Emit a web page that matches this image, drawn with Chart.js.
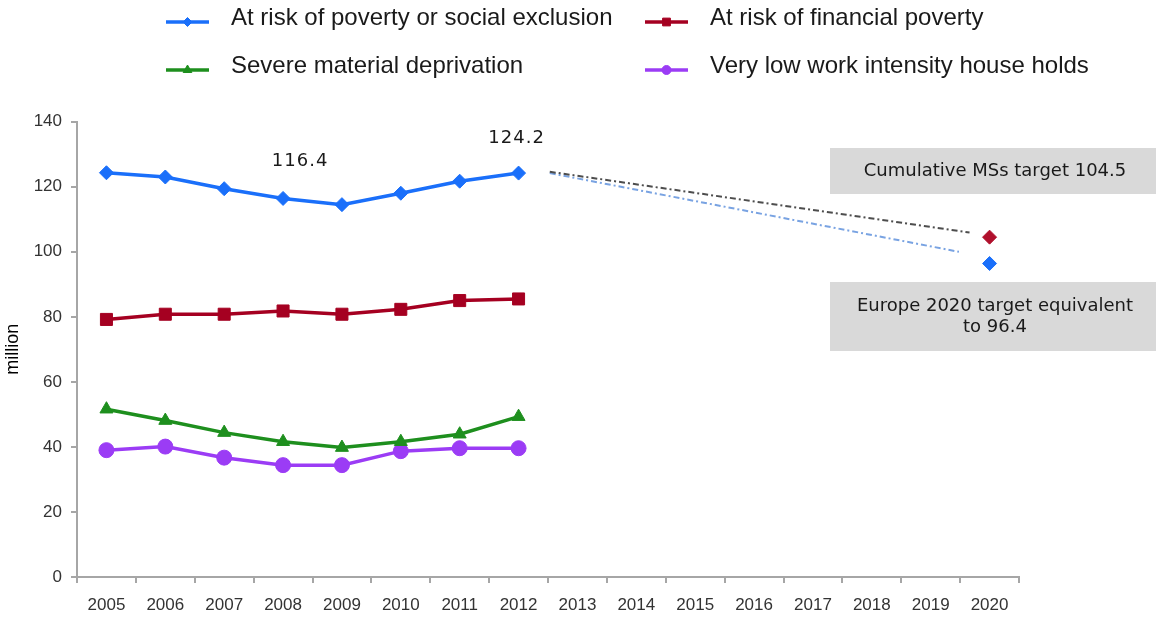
<!DOCTYPE html>
<html>
<head>
<meta charset="utf-8">
<script src="https://cdn.jsdelivr.net/npm/chart.js@4.4.0/dist/chart.umd.min.js"></script>
<style>
  html, body { margin: 0; padding: 0; background: #fff; }
  #wrap { width: 1156px; height: 617px; }
</style>
</head>
<body>
<div id="wrap"><canvas id="povertyChart" width="1156" height="617"></canvas></div>
<script>
// Data (million people)
const years = ['2005', '2006', '2007', '2008', '2009', '2010', '2011', '2012',
               '2013', '2014', '2015', '2016', '2017', '2018', '2019', '2020'];
const seriesNames = ['At risk of poverty or social exclusion', 'At risk of financial poverty',
                     'Severe material deprivation', 'Very low work intensity house holds'];
const arope = [124.3, 123.0, 119.4, 116.4, 114.5, 118.0, 121.7, 124.2];
const financialPoverty = [79.2, 80.8, 80.8, 81.8, 80.8, 82.3, 85.0, 85.5];
const materialDeprivation = [51.6, 48.1, 44.4, 41.6, 39.8, 41.6, 43.9, 49.3];
const lowWorkIntensity = [39.0, 40.1, 36.7, 34.4, 34.4, 38.7, 39.6, 39.6];
const msTarget = 104.5;
const euTarget = 96.4;
// trend lines towards the targets: [year, value] at start and end
const msTrend = [[2012.53, 124.6], [2019.66, 105.9]];
const euTrend = [[2012.53, 124.2], [2019.48, 100.0]];
const labelledYears = ['2008', '2012'];
const yTicks = [0, 20, 40, 60, 80, 100, 120, 140];
const boxTexts = [['Cumulative MSs target 104.5'], ['Europe 2020 target equivalent', 'to 96.4']];

const colors = ['#1a6ffa', '#a50021', '#1e8f1e', '#9b3cf5'];
const styles = ['rectRot', 'rect', 'triangle', 'circle'];
const radii = [7, 8.5, 7.5, 7.5];

const pad = arr => years.map((y, i) => i < arr.length ? arr[i] : null);
const onlyLast = v => years.map((y, i) => i === years.length - 1 ? v : null);
const toPts = arr => arr.map(p => ({x: p[0], y: p[1]}));

const mainData = [arope, financialPoverty, materialDeprivation, lowWorkIntensity];

const datasets = mainData.map((d, i) => ({
    label: seriesNames[i],
    data: pad(d),
    borderColor: colors[i],
    backgroundColor: colors[i],
    pointBackgroundColor: colors[i],
    pointBorderColor: colors[i],
    pointStyle: styles[i],
    pointRadius: radii[i],
    pointBorderWidth: 1,
    borderWidth: 3.5,
    tension: 0,
    order: 1
}));

datasets.push({
    label: 'Cumulative MSs target',
    data: onlyLast(msTarget),
    showLine: false,
    pointStyle: 'rectRot', pointRadius: 7,
    pointBackgroundColor: '#b0102c', pointBorderColor: '#b0102c', pointBorderWidth: 1,
    order: 1
});
datasets.push({
    label: 'Europe 2020 target',
    data: onlyLast(euTarget),
    showLine: false,
    pointStyle: 'rectRot', pointRadius: 7,
    pointBackgroundColor: '#1a6ffa', pointBorderColor: '#1a6ffa', pointBorderWidth: 1,
    order: 1
});
datasets.push({
    label: 'MS trend',
    xAxisID: 'x2',
    data: toPts(msTrend),
    borderColor: '#4d4d4d',
    borderWidth: 2,
    borderDash: [6, 3, 2, 3],
    pointRadius: 0,
    order: 2
});
datasets.push({
    label: 'EU trend',
    xAxisID: 'x2',
    data: toPts(euTrend),
    borderColor: '#79a3e2',
    borderWidth: 2,
    borderDash: [6, 3, 2, 3],
    pointRadius: 0,
    order: 2
});

// legend in two columns above the plot
const legendPlugin = {
    id: 'twoColLegend',
    afterDraw(chart) {
        const ctx = chart.ctx;
        const spots = [[166, 18], [645, 18], [166, 66], [645, 66]];
        const markR = [4.5, 5.5, 5, 4.5];
        ctx.save();
        spots.forEach((s, i) => {
            const [x, y] = s;
            ctx.strokeStyle = colors[i];
            ctx.fillStyle = colors[i];
            ctx.lineWidth = 3.5;
            ctx.beginPath();
            ctx.moveTo(x, y + 4);
            ctx.lineTo(x + 43, y + 4);
            ctx.stroke();
            ctx.lineWidth = 1;
            Chart.helpers.drawPoint(ctx, {pointStyle: styles[i], radius: markR[i], borderWidth: 1, rotation: 0}, x + 21.5, y + 4);
            ctx.fillStyle = '#1a1a1a';
            ctx.font = '24px "Liberation Sans", Arial, sans-serif';
            ctx.textBaseline = 'middle';
            ctx.textAlign = 'left';
            ctx.fillText(seriesNames[i], x + 65, y);
        });
        ctx.restore();
    }
};

// value labels above two points and the grey target boxes
const notesPlugin = {
    id: 'notes',
    afterDatasetsDraw(chart) {
        const ctx = chart.ctx;
        const meta = chart.getDatasetMeta(0);
        const shift = {'2008': [17, -37], '2012': [-2, -35]};
        ctx.save();
        ctx.font = '18px "DejaVu Sans", sans-serif';
        ctx.letterSpacing = '1px';
        ctx.fillStyle = '#1a1a1a';
        ctx.textAlign = 'center';
        ctx.textBaseline = 'middle';
        labelledYears.forEach(yr => {
            const i = years.indexOf(yr);
            const pt = meta.data[i];
            ctx.fillText(arope[i].toFixed(1), pt.x + shift[yr][0], pt.y + shift[yr][1]);
        });
        ctx.letterSpacing = '0px';

        const boxes = [[830, 148, 326, 46], [830, 282, 326, 69]];
        boxes.forEach((b, k) => {
            ctx.fillStyle = '#d9d9d9';
            ctx.fillRect(b[0], b[1], b[2], b[3]);
            ctx.fillStyle = '#1a1a1a';
            ctx.font = '18px "DejaVu Sans", sans-serif';
            const lines = boxTexts[k];
            const lh = 21;
            const cy = b[1] + b[3] / 2 - (lines.length - 1) * lh / 2;
            lines.forEach((t, j) => ctx.fillText(t, 995, cy + j * lh));
        });
        ctx.restore();
    }
};

const tickFont = {family: '"Liberation Sans", Arial, sans-serif', size: 17};
const axisGray = '#a6a6a6';

new Chart(document.getElementById('povertyChart'), {
    type: 'line',
    data: { labels: years, datasets: datasets },
    options: {
        responsive: false,
        animation: false,
        devicePixelRatio: 1,
        layout: { padding: { top: 121.7, left: 0, right: 137, bottom: 0 } },
        plugins: { legend: { display: false }, tooltip: { enabled: false } },
        scales: {
            x: {
                type: 'category',
                offset: true,
                grid: { offset: true, drawOnChartArea: false, drawTicks: true, tickLength: 6, color: axisGray, lineWidth: 2 },
                border: { display: true, color: axisGray, width: 2 },
                ticks: { color: '#333333', font: tickFont, padding: 12, maxRotation: 0, autoSkip: false },
                afterFit: s => { s.height = 40; }
            },
            x2: {
                type: 'linear',
                display: false,
                min: 2004.5,
                max: 2020.5
            },
            y: {
                min: 0,
                max: 140,
                afterBuildTicks: s => { s.ticks = yTicks.map(v => ({value: v})); },
                grid: { drawOnChartArea: false, drawTicks: true, tickLength: 6, color: axisGray, lineWidth: 2 },
                border: { display: true, color: axisGray, width: 2 },
                ticks: { color: '#333333', font: tickFont, padding: 9 },
                title: { display: true, text: 'million', color: '#000', font: {family: '"Liberation Sans", Arial, sans-serif', size: 18}, padding: { top: 2, bottom: 0 } },
                afterFit: s => { s.width = 77; }
            }
        }
    },
    plugins: [legendPlugin, notesPlugin]
});
</script>
</body>
</html>
